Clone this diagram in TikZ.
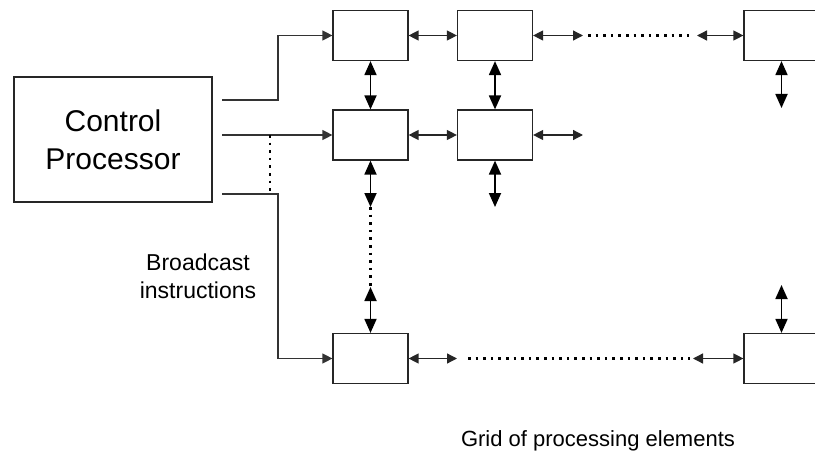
\documentclass[tikz,border=0pt]{standalone}
\usepackage{fontspec}
\setmainfont{Liberation Sans}
\usetikzlibrary{arrows.meta}

\tikzset{
  pe/.style={draw=black!85, line width=1.2pt, minimum width=75pt, minimum height=50pt, inner sep=0pt},
  hlink/.style={{Triangle[length=10pt,width=10pt]}-{Triangle[length=10pt,width=10pt]}, line width=1.3pt, black!85},
  vlink/.style={{Triangle[length=14pt,width=12pt]}-{Triangle[length=14pt,width=12pt]}, line width=1.8pt},
  bus/.style={-{Triangle[length=10pt,width=10pt]}, line width=1.3pt, black!80},
  dots/.style={line width=2.6pt, dash pattern=on 2.6pt off 5pt}
}

\begin{document}
\begin{tikzpicture}[x=1pt, y=-1pt]
            \clip (0,0) rectangle (815,452);

            \def\ca{370.5}
            \def\cb{495}
            \def\cn{781.5}
            \def\ra{35.5}
            \def\rb{135}
            \def\rm{358.5}

            % control processor
            \node[draw=black!85, line width=1.2pt, minimum width=198pt, minimum height=125pt, align=center,
                  font=\fontsize{30}{38}\selectfont] (cp) at (113,139.5) {Control\\Processor};

            % processing elements
            \node[pe] (pe11) at (\ca,\ra) {};
            \node[pe] (pe12) at (\cb,\ra) {};
            \node[pe] (pe1n) at (\cn,\ra) {};
            \node[pe] (pe21) at (\ca,\rb) {};
            \node[pe] (pe22) at (\cb,\rb) {};
            \node[pe] (pem1) at (\ca,\rm) {};
            \node[pe] (pemn) at (\cn,\rm) {};

            % broadcast lines
            \coordinate (b1) at (222,100);
            \coordinate (b2) at (222,\rb);
            \coordinate (b3) at (222,194);
            \draw[bus] (b1) -- (278,100) |- (pe11.west);
            \draw[bus] (b2) -- (pe21.west);
            \draw[bus] (b3) -- (278,194) |- (pem1.west);
            \draw[dots] (270,\rb) -- (270,194);

            % row links
            \coordinate (e12) at (583,\ra);
            \coordinate (w1n) at (697,\ra);
            \coordinate (e22) at (583,\rb);
            \coordinate (em1) at (457,\rm);
            \coordinate (wmn) at (693,\rm);
            \draw[hlink] (pe11.east) -- (pe12.west);
            \draw[hlink] (pe12.east) -- (e12);
            \draw[dots] (588,\ra) -- (690,\ra);
            \draw[hlink] (w1n) -- (pe1n.west);
            \draw[hlink] (pe21.east) -- (pe22.west);
            \draw[hlink] (pe22.east) -- (e22);
            \draw[hlink] (pem1.east) -- (em1);
            \draw[dots] (468,\rm) -- (690,\rm);
            \draw[hlink] (wmn) -- (pemn.west);

            % column links
            \coordinate (s1n) at (\cn,108);
            \coordinate (s21) at (\ca,207);
            \coordinate (nm1) at (\ca,287);
            \coordinate (s22) at (\cb,207);
            \coordinate (nmn) at (\cn,285);
            \draw[vlink] (pe11.south) -- (pe21.north);
            \draw[vlink] (pe12.south) -- (pe22.north);
            \draw[vlink] (pe1n.south) -- (s1n);
            \draw[vlink] (pe21.south) -- (s21);
            \draw[dots] (s21) -- (nm1);
            \draw[vlink] (nm1) -- (pem1.north);
            \draw[vlink] (pe22.south) -- (s22);
            \draw[vlink] (nmn) -- (pemn.north);

            % labels
            \node[align=center, font=\fontsize{23}{28}\selectfont] (bc) at (198,276) {Broadcast\\instructions};
            \node[font=\fontsize{22}{26}\selectfont, anchor=base] (grid) at (598,446) {Grid of processing elements};
\end{tikzpicture}
\end{document}
